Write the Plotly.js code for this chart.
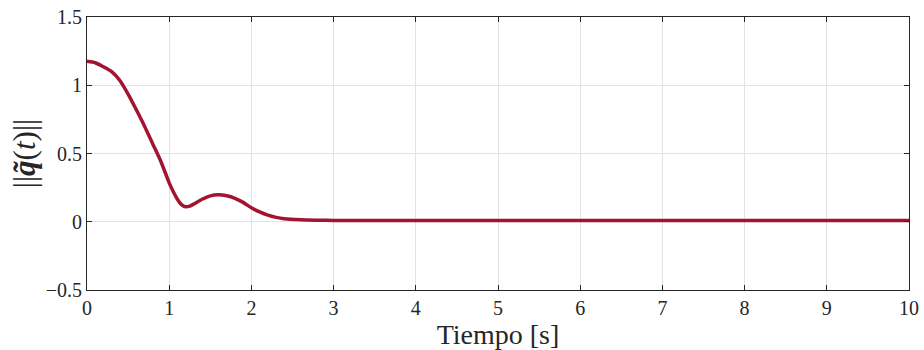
<!DOCTYPE html>
<html><head><meta charset="utf-8">
<script src="https://cdn.plot.ly/plotly-3.0.1.min.js"></script>
<style>html,body{margin:0;padding:0;background:#fff;}</style>
</head><body>
<div id="chart" style="width:924px;height:350px;"></div>
<script>
const timeS = [0, 0.1, 0.2, 0.3, 0.4, 0.5, 0.6, 0.7, 0.8, 0.9, 1.0, 1.05, 1.1, 1.15, 1.2, 1.25, 1.3, 1.4, 1.5, 1.6, 1.7, 1.8, 1.9, 2.0, 2.1, 2.2, 2.3, 2.4, 2.6, 2.8, 3, 4, 5, 6, 7, 8, 9, 10];
const errNorm = [1.175, 1.165, 1.135, 1.1, 1.035, 0.935, 0.82, 0.70, 0.57, 0.44, 0.285, 0.22, 0.165, 0.125, 0.11, 0.115, 0.13, 0.165, 0.19, 0.197, 0.19, 0.172, 0.142, 0.102, 0.072, 0.048, 0.032, 0.022, 0.014, 0.011, 0.01, 0.01, 0.01, 0.01, 0.01, 0.01, 0.01, 0.01];
const xTicks = [0,1,2,3,4,5,6,7,8,9,10];
const yTicks = [-0.5, 0, 0.5, 1, 1.5];
const yTickText = ['\u22120.5', '0', '0.5', '1', '1.5'];

const serif = 'Liberation Serif';
const trace = {
  x: timeS, y: errNorm, type: 'scatter', mode: 'lines',
  line: {color: '#A2142F', width: 3.5, shape: 'spline', smoothing: 0.6},
  hoverinfo: 'none'
};
const axisCommon = {
  showline: true, linecolor: '#262626', linewidth: 1, mirror: 'ticks',
  ticks: 'inside', ticklen: 5, tickcolor: '#262626', tickwidth: 1,
  showgrid: true, gridcolor: '#e3e3e3', gridwidth: 1, zeroline: false,
  tickfont: {family: serif, size: 20, color: '#262626'}
};
const layout = {
  width: 924, height: 350,
  margin: {l: 87, r: 15, t: 17, b: 60},
  paper_bgcolor: '#fff', plot_bgcolor: '#fff',
  font: {family: serif},
  showlegend: false,
  xaxis: Object.assign({}, axisCommon, {
    range: [0, 10], tickvals: xTicks, ticktext: xTicks.map(String),
    title: {text: 'Tiempo [s]', font: {family: serif, size: 28, color: '#262626'}, standoff: 0}
  }),
  yaxis: Object.assign({}, axisCommon, {
    range: [-0.5, 1.5], tickvals: yTicks, ticktext: yTickText,
    title: {text: '||<b><i>q\u0303</i></b>(<i>t</i>)||', font: {family: serif, size: 31, color: '#262626'}, standoff: 0}
  })
};
Plotly.newPlot('chart', [trace], layout, {staticPlot: true, displayModeBar: false});
</script>
</body></html>
